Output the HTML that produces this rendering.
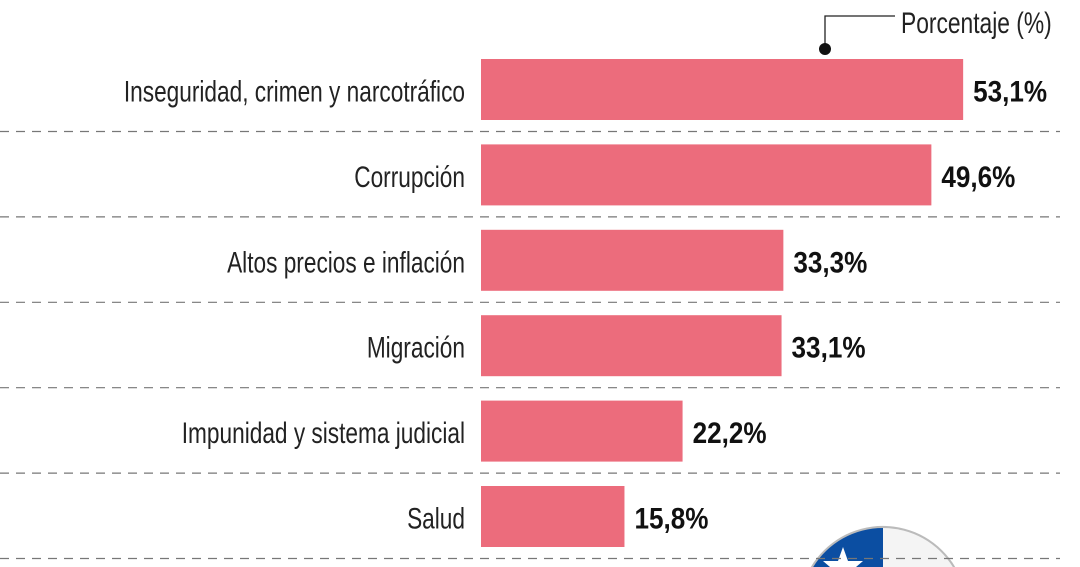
<!DOCTYPE html>
<html><head><meta charset="utf-8"><style>
html,body{margin:0;padding:0;background:#fff;width:1080px;height:567px;overflow:hidden}
svg{display:block;font-family:"Liberation Sans",sans-serif;overflow:hidden}
</style></head><body>
<svg id="chart" width="1080" height="567" viewBox="0 0 1080 567">
<g>
<path d="M810.8,567 A84,84 0 0 1 955.2,567 Z" fill="#bbb"/>
<path d="M813.2,567 A82,82 0 0 1 883,528 L883,567 Z" fill="#0b4ea2"/>
<path d="M883,528 A82,82 0 0 1 952.8,567 L883,567 Z" fill="#f4f4f4"/>
<polygon points="843,547 848,561 863,561 856,567 830,567 823,561 838,561" fill="#fff"/>
</g>
<g id="grid"></g>
<g id="bars"></g>
<g>
<polyline points="825,49 825,16 895,16" fill="none" stroke="#222" stroke-width="1.3"/>
<circle cx="825" cy="49" r="6" fill="#111"/>
<g transform="translate(901,33) scale(0.76,1)"><text font-size="30" fill="#222">Porcentaje (%)</text></g>
</g>
</svg>
<script>
const categories=["Inseguridad, crimen y narcotráfico","Corrupción","Altos precios e inflación","Migración","Impunidad y sistema judicial","Salud"];
const values=[53.1,49.6,33.3,33.1,22.2,15.8];
const valueLabels=["53,1%","49,6%","33,3%","33,1%","22,2%","15,8%"];
const NS="http://www.w3.org/2000/svg";
const x0=481,pxPer=9.08,rowTop=59,pitch=85.4,barH=61;
const xScale=v=>x0+v*pxPer;
const yScale=i=>rowTop+i*pitch;
const bars=document.getElementById('bars'),grid=document.getElementById('grid');
function mk(t,a,p){const e=document.createElementNS(NS,t);for(const k in a)e.setAttribute(k,a[k]);p.appendChild(e);return e;}
categories.forEach((c,i)=>{
  const y=yScale(i);
  const ln=mk('line',{x1:0,x2:1060,y1:y+barH+11.5,y2:y+barH+11.5,stroke:'#777','stroke-width':1.2,'stroke-dasharray':'9 7'},grid);
  
  
  const r=mk('rect',{x:x0,y:y,width:xScale(values[i])-x0,height:barH,fill:'#ec6c7c'},bars);
  
  
  const g1=mk('g',{transform:`translate(465,${y+barH/2+12}) scale(0.755,1)`},bars);
  const t=mk('text',{'font-size':30,'text-anchor':'end',fill:'#222'},g1);
  t.textContent=c;
  
  
  const g2=mk('g',{transform:`translate(${xScale(values[i])+10},${y+barH/2+12}) scale(0.87,1)`},bars);
  const v=mk('text',{'font-size':30,'font-weight':'bold',fill:'#111'},g2);
  v.textContent=valueLabels[i];
  
  
});
</script>
</body></html>
